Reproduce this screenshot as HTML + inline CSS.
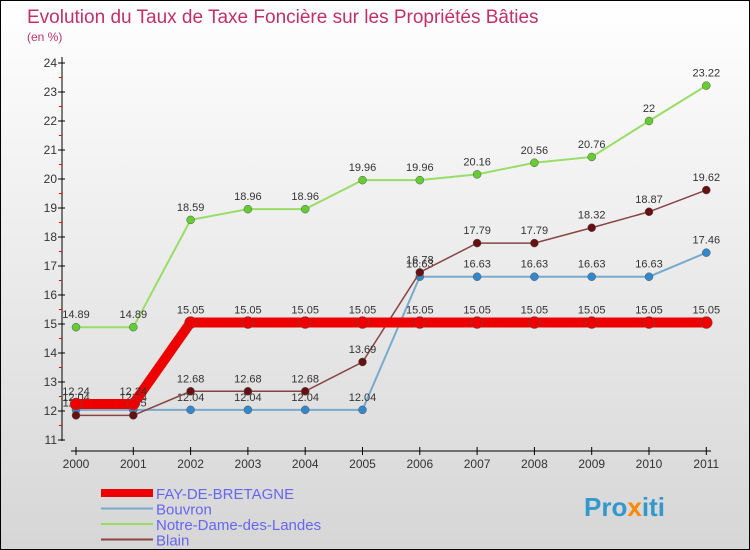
<!DOCTYPE html>
<html><head><meta charset="utf-8"><style>
body{margin:0}
#c{width:748px;height:548px;border:1px solid #000;background:linear-gradient(#fff,#d6d6d6);position:relative;font-family:"Liberation Sans",sans-serif;overflow:hidden}
</style></head><body>
<div id="c">
<svg id="s" width="748" height="548" xmlns="http://www.w3.org/2000/svg">
<text x="26" y="22" font-size="19" fill="#c0306a">Evolution du Taux de Taxe Foncière sur les Propriétés Bâties</text>
<text x="26" y="40" font-size="12" fill="#c0306a">(en %)</text>
<g id="axes"></g><g id="series"></g><g id="legend"></g>
<text x="583" y="515" font-size="26" font-weight="bold" fill="#3399cc">Pro<tspan fill="#ff8800">x</tspan>iti</text>
</svg></div>
<script>
const years=[2000,2001,2002,2003,2004,2005,2006,2007,2008,2009,2010,2011];
const yTicks=[11,12,13,14,15,16,17,18,19,20,21,22,23,24];
const fay=[12.24,12.24,15.05,15.05,15.05,15.05,15.05,15.05,15.05,15.05,15.05,15.05];
const bouvron=[12.04,12.04,12.04,12.04,12.04,12.04,16.63,16.63,16.63,16.63,16.63,17.46];
const notre=[14.89,14.89,18.59,18.96,18.96,19.96,19.96,20.16,20.56,20.76,22,23.22];
const blain=[11.85,11.85,12.68,12.68,12.68,13.69,16.78,17.79,17.79,18.32,18.87,19.62];
const names=["FAY-DE-BRETAGNE","Bouvron","Notre-Dame-des-Landes","Blain"];
const NS="http://www.w3.org/2000/svg";
const X=i=>75+i*57.3, Y=v=>410-(v-12)*29;
function mk(t,a,p){const e=document.createElementNS(NS,t);for(const k in a)e.setAttribute(k,a[k]);p.appendChild(e);return e;}
const ax=document.getElementById('axes');
let l=mk('line',{x1:61,y1:56,x2:61,y2:440,stroke:'#000'},ax);

yTicks.forEach(v=>{mk('line',{x1:57,x2:64,y1:Y(v),y2:Y(v),stroke:'#000'},ax);
if(v<24)mk('line',{x1:58,x2:61,y1:Y(v+.5),y2:Y(v+.5),stroke:'red'},ax);
const t=mk('text',{x:56,y:Y(v)+4,'font-size':12,'text-anchor':'end',fill:'#333'},ax);t.textContent=v;
});
l=mk('line',{x1:70,y1:450,x2:710,y2:450,stroke:'#000'},ax);

years.forEach((y,i)=>{mk('line',{x1:X(i),x2:X(i),y1:446,y2:454,stroke:'#000'},ax);
const t=mk('text',{x:X(i),y:467,'font-size':12,'text-anchor':'middle',fill:'#333'},ax);t.textContent=y;
});
const sg=document.getElementById('series');
const defs=[[notre,'#99dd66','#66cc33',2,4,'notre-dame'],[bouvron,'#77aacc','#3388cc',2,4,'bouvron'],[blain,'#884444','#661111',1.5,4,'blain'],[fay,'#ee0000','#ee0000',10,6,'fay-de-bretagne']];
defs.forEach(([d,lc,pc,w,r,n])=>{
const p=mk('polyline',{points:d.map((v,i)=>X(i)+','+Y(v)).join(' '),fill:'none',stroke:lc,'stroke-width':w},sg);

d.forEach((v,i)=>{const c=mk('circle',{cx:X(i),cy:Y(v),r:r,fill:pc,stroke:'#555','stroke-width':0.5},sg);

const t=mk('text',{x:X(i),y:Y(v)-9,'font-size':11,'text-anchor':'middle',fill:'#333'},sg);t.textContent=String(v).replace('.','.');
});});
const lg=document.getElementById('legend');
const lcol=['#ee0000','#77aacc','#99dd66','#884444'],lw=[8,2,2,2];
names.forEach((n,i)=>{const y=492+i*15.5;
mk('line',{x1:100,x2:152,y1:y,y2:y,stroke:lcol[i],'stroke-width':lw[i]},lg);
const t=mk('text',{x:155,y:y+6,'font-size':15,fill:'#6666ee'},lg);t.textContent=n;
});
</script>
</body></html>
